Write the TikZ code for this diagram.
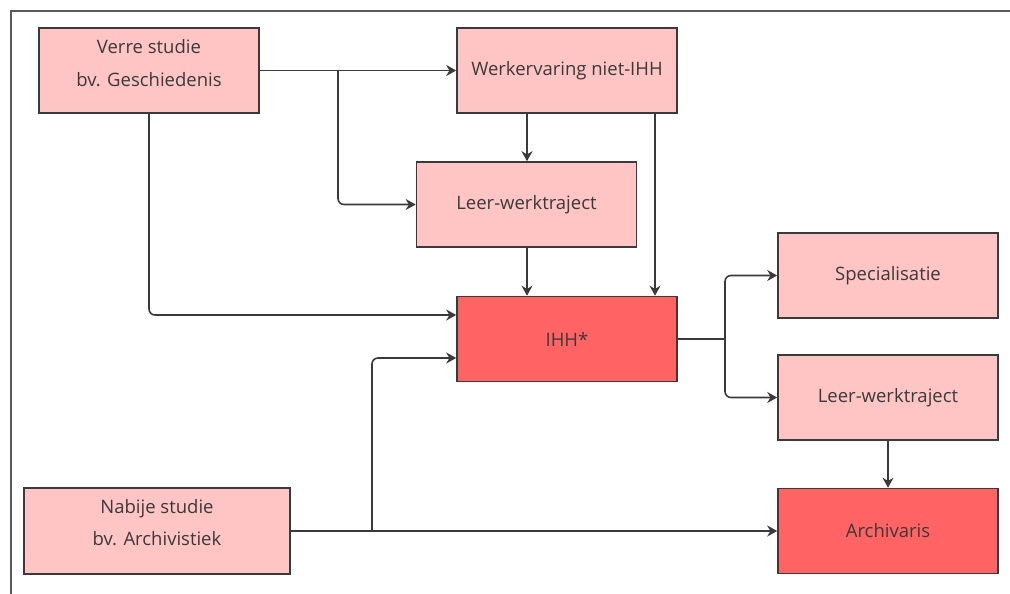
\documentclass[tikz,border=0pt]{standalone}
\usepackage{fontspec}
\setmainfont{Open Sans}
\usetikzlibrary{arrows.meta}
\definecolor{lightbox}{HTML}{FFC4C4}
\definecolor{redbox}{HTML}{FF6363}
\definecolor{edge}{HTML}{3A3A3A}
\definecolor{txt}{HTML}{3A3A3A}
\tikzset{
  box/.style={draw=edge, line width=1.6pt, fill=lightbox, minimum width=220pt, minimum height=85pt, inner sep=0pt, text=txt, font=\fontsize{18.5}{21}\selectfont},
  hotbox/.style={box, fill=redbox},
  lbl/.style={inner sep=0pt, text=txt, font=\fontsize{18.5}{21}\selectfont},
  conn/.style={draw=edge, line width=1.6pt, rounded corners=6pt, -{Stealth[length=10pt,width=11pt]}},
}
\begin{document}
\begin{tikzpicture}[x=1pt,y=-1pt]
\useasboundingbox (0,0) rectangle (1010,594);
\draw[draw=gray!70!black, line width=2.2pt] (11,594) -- (11,11) -- (1010,11);

\node[box] (vs) at (149,70.5) {};
\node[lbl] (vs1) at (149,47) {Verre studie};
\node[lbl] (vs2) at (149,80) {bv. Geschiedenis};

\node[box] (wv) at (567,70.5) {Werkervaring niet-IHH};
\node[box] (lw1) at (526.5,204.5) {Leer-werktraject};
\node[hotbox] (ihh) at (567,339) {IHH*};
\node[box] (sp) at (888,275.5) {Specialisatie};
\node[box] (lw2) at (888,397.5) {Leer-werktraject};
\node[hotbox] (ar) at (888,531) {Archivaris};

\node[box, minimum width=266pt, minimum height=86pt] (ns) at (157,531) {};
\node[lbl] (ns1) at (157,509) {Nabije studie};
\node[lbl] (ns2) at (157,539) {bv. Archivistiek};

\coordinate (j1) at (338,70.5);
\coordinate (j2) at (372,531);
\coordinate (j3) at (725,339);

\draw[conn] (vs.east) -- (wv.west);
\draw[conn] (j1) -- (j1 |- lw1.west) -- (lw1.west);
\draw[conn] (vs.south -| 149,0) -- (149,315) -- (ihh.west |- 0,315);
\draw[conn] (wv.south -| 527,0) -- (lw1.north -| 527,0);
\draw[conn] (wv.south -| 655,0) -- (ihh.north -| 655,0);
\draw[conn] (lw1.south -| 527,0) -- (ihh.north -| 527,0);
\draw[conn] (ns.east) -- (ar.west);
\draw[conn] (j2) -- (j2 |- 0,358) -- (ihh.west |- 0,358);
\draw[draw=edge, line width=1.6pt] (ihh.east) -- (j3);
\draw[conn] (j3) -- (j3 |- sp.west) -- (sp.west);
\draw[conn] (j3) -- (j3 |- lw2.west) -- (lw2.west);
\draw[conn] (lw2.south) -- (ar.north);
\end{tikzpicture}
\end{document}
